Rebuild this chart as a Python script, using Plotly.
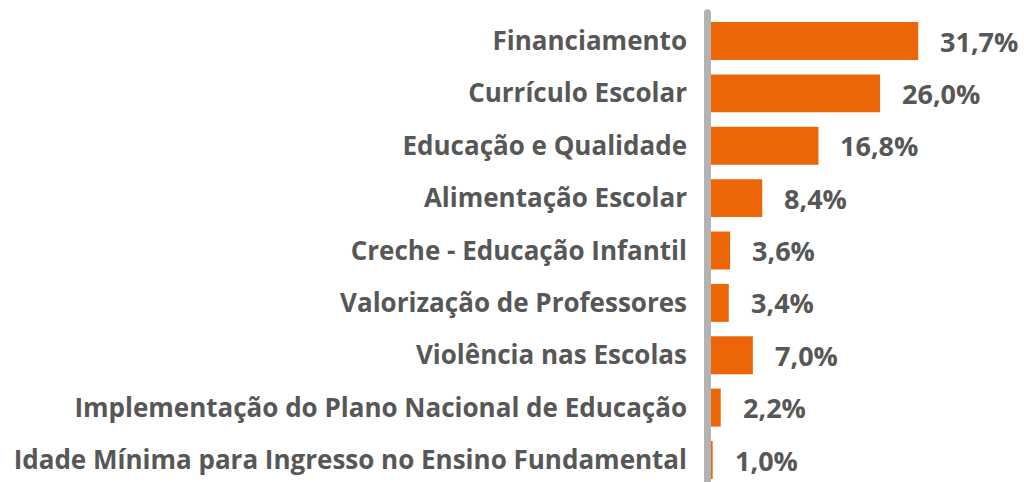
import plotly.graph_objects as go

categories = [
    "Financiamento",
    "Currículo Escolar",
    "Educação e Qualidade",
    "Alimentação Escolar",
    "Creche - Educação Infantil",
    "Valorização de Professores",
    "Violência nas Escolas",
    "Implementação do Plano Nacional de Educação",
    "Idade Mínima para Ingresso no Ensino Fundamental",
]
values = [31.7, 26.0, 16.8, 8.4, 3.6, 3.4, 7.0, 2.2, 1.0]
value_labels = [f"{v:.1f}%".replace(".", ",") for v in values]

ORANGE = "#EC6608"
TEXT = "#575757"
GRAY = "#B3B3B3"
FONT = "Open Sans"

fig = go.Figure()
fig.add_trace(go.Bar(
    x=values, y=list(range(len(categories))), orientation="h",
    marker=dict(color=ORANGE, line=dict(width=0)),
    hoverinfo="skip",
))

for i, (v, t) in enumerate(zip(values, value_labels)):
    fig.add_annotation(x=v, y=i, text=f"<b>{t}</b>", showarrow=False,
                       xanchor="left", yanchor="middle", xshift=20,
                       font=dict(family=FONT, size=27, color=TEXT))

# axis line (gray, rounded top), drawn over the bar starts
fig.add_shape(type="rect", xref="paper", yref="paper", xsizemode="pixel",
              xanchor=0, x0=-2, x1=5, y0=-0.05, y1=0.99,
              line=dict(width=0), fillcolor=GRAY, layer="above")
fig.add_shape(type="circle", xref="paper", yref="paper",
              xsizemode="pixel", ysizemode="pixel", xanchor=0, yanchor=0.99,
              x0=-2, x1=5, y0=-3.5, y1=3.5,
              line=dict(width=0), fillcolor=GRAY, layer="above")

fig.update_layout(
    width=1024, height=482,
    margin=dict(l=706, r=0, t=8, b=0),
    paper_bgcolor="white", plot_bgcolor="white",
    bargap=0.275,
    showlegend=False,
    xaxis=dict(range=[0, 47.5], visible=False, fixedrange=True),
    yaxis=dict(
        range=[8.42, -0.63],
        tickmode="array",
        tickvals=list(range(len(categories))),
        ticktext=[f"<b>{c}</b>" for c in categories],
        tickfont=dict(family=FONT, size=26, color=TEXT),
        ticks="", showgrid=False, zeroline=False, showline=False,
        ticklabelstandoff=18,
    ),
)

fig.write_html("out.html")
